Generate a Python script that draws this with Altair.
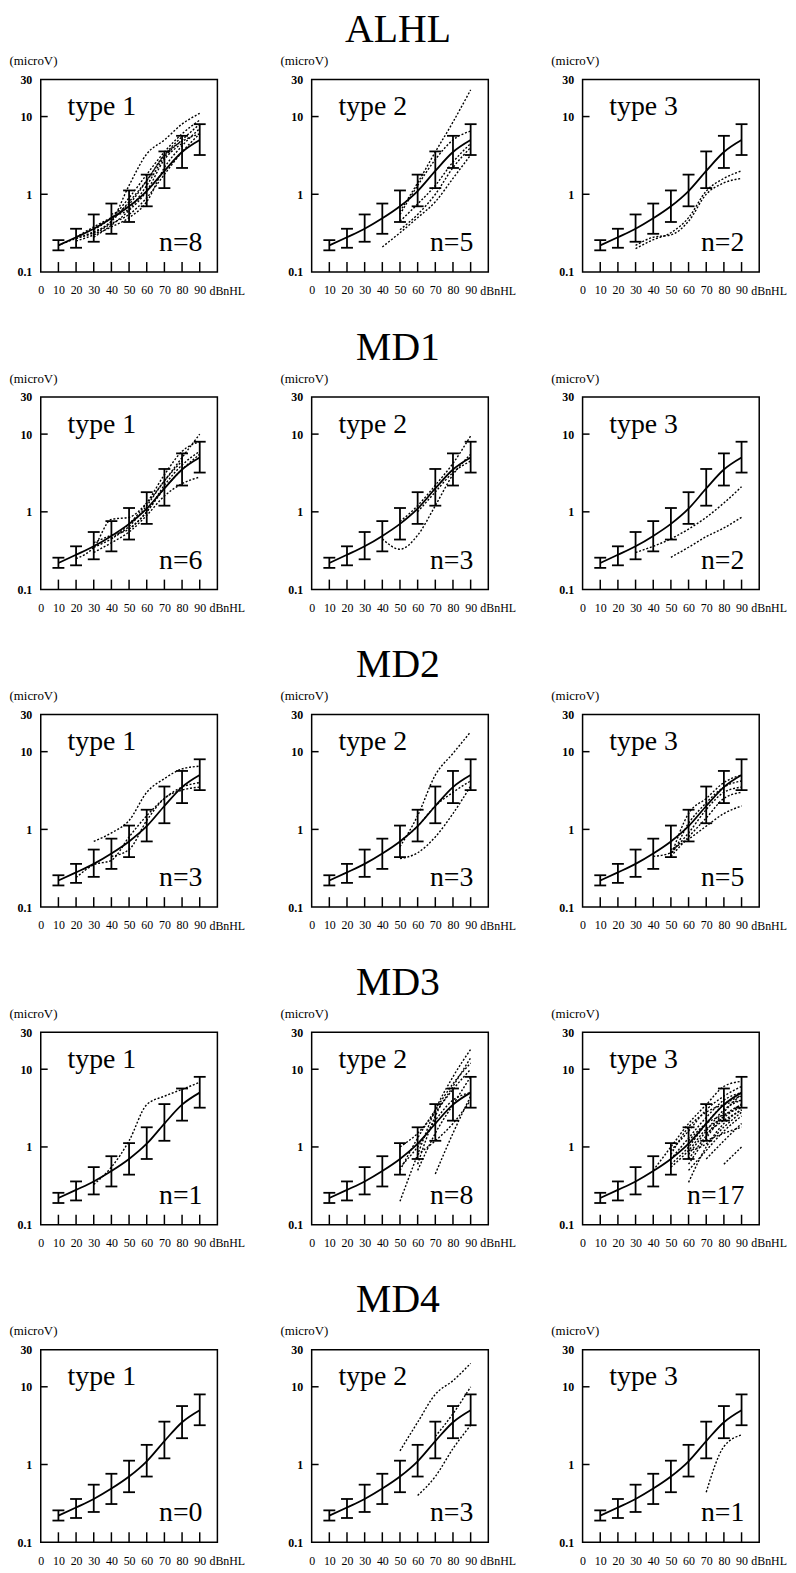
import altair as alt
import pandas as pd

SERIF = "Liberation Serif"

# ---- shared reference (normal mean +/- range) ----
X = [10, 20, 30, 40, 50, 60, 70, 80, 90]
MEAN = [0.22, 0.28, 0.36, 0.49, 0.70, 1.10, 2.00, 3.50, 5.00]
LOW = [0.19, 0.205, 0.245, 0.31, 0.44, 0.70, 1.20, 2.18, 3.20]
HIGH = [0.257, 0.36, 0.55, 0.76, 1.12, 1.79, 3.56, 5.65, 7.98]

X_LABELS = [0, 10, 20, 30, 40, 50, 60, 70, 80, 90]
Y_LABELS = [0.1, 1, 10, 30]
Y_TICKS = [1, 10]

GROUPS = ["ALHL", "MD1", "MD2", "MD3", "MD4"]
TYPES = ["type 1", "type 2", "type 3"]
N_COUNTS = [[8, 5, 2], [6, 3, 2], [3, 3, 5], [1, 8, 17], [0, 3, 1]]

N = None
# ---- individual cases (values at X, None = not recorded) ----
ALHL_1 = [
    [N, 0.27, 0.33, 0.45, 1.3, 3.3, 5.0, 8.0, 11.0],
    [N, N, 0.35, 0.50, 0.9, 1.8, 3.5, 6.0, 9.0],
    [N, 0.28, 0.38, 0.50, 0.65, 1.3, 3.0, 5.0, 8.0],
    [N, N, 0.30, 0.42, 0.55, 0.9, 1.8, 3.5, 6.0],
    [0.22, 0.27, 0.32, 0.45, 0.80, 1.5, 3.2, 5.5, N],
    [N, 0.25, 0.30, 0.38, 0.50, 0.8, 2.2, 4.2, 7.0],
    [N, N, 0.28, 0.40, 0.62, 1.1, 2.8, 4.5, N],
    [N, N, N, 0.55, 0.75, 1.5, 3.2, 4.8, 6.0],
]
ALHL_2 = [
    [N, N, N, N, 0.6, 1.4, 3.5, 8.5, 22.0],
    [N, N, N, N, 0.55, 1.3, 2.8, 5.0, 6.5],
    [N, N, N, 0.21, 0.32, 0.5, 0.8, 1.6, 3.2],
    [N, N, N, N, 0.35, 0.55, 1.0, 2.2, 4.0],
    [N, N, N, N, 0.45, 0.75, 1.3, 2.6, 4.5],
]
ALHL_3 = [
    [N, N, 0.20, 0.26, 0.32, 0.50, 1.1, 1.6, 2.0],
    [N, N, 0.22, 0.28, 0.30, 0.45, 1.0, 1.4, 1.6],
]
MD1_1 = [
    [N, 0.25, 0.35, 0.8, 0.85, 1.3, 2.5, 5.0, 10.0],
    [N, N, 0.40, 0.5, 0.6, 1.0, 2.0, 3.5, 5.5],
    [N, N, 0.30, 0.4, 0.55, 0.9, 1.6, 2.3, 2.8],
    [N, N, N, 0.45, 0.7, 1.3, 3.0, 6.0, 8.0],
    [N, N, 0.35, 0.45, 0.65, 1.2, 2.5, 4.5, N],
    [N, N, N, N, 0.6, 1.0, 2.2, 4.0, 6.0],
]
MD1_2 = [
    [N, N, N, 0.45, 0.33, 0.5, 1.2, 3.0, 5.5],
    [N, N, N, N, 0.75, 1.2, 2.2, 4.2, 9.5],
    [N, N, N, N, N, 1.0, 1.8, 3.2, 4.5],
]
MD1_3 = [
    [N, N, 0.30, 0.36, 0.45, 0.6, 0.85, 1.3, 2.1],
    [N, N, N, N, 0.26, 0.35, 0.48, 0.62, 0.85],
]
MD2_1 = [
    [N, N, 0.70, 0.9, 1.3, 3.0, 4.5, 6.0, 6.5],
    [N, 0.24, 0.35, 0.4, 0.8, 1.5, 2.5, 3.5, 4.0],
    [N, N, N, 0.45, 0.55, 1.3, 2.5, 3.2, 3.5],
]
MD2_2 = [
    [N, N, N, N, 0.6, 1.5, 5.0, 9.5, 18.0],
    [N, N, N, N, 0.42, 0.5, 0.8, 1.6, 3.6],
    [N, N, N, N, 0.7, 1.1, 2.0, 3.0, 4.2],
]
MD2_3 = [
    [N, N, N, N, 0.45, 1.6, 2.5, 4.0, 5.0],
    [N, N, N, N, 0.5, 0.9, 1.8, 3.0, 3.5],
    [N, N, N, N, 0.45, 0.8, 1.4, 2.5, 3.0],
    [N, N, N, N, 0.55, 0.75, 1.1, 1.6, 2.0],
    [N, N, N, 0.45, 0.5, 1.2, 2.2, 3.5, 4.2],
]
MD3_1 = [
    [N, N, 0.33, 0.55, 1.2, 3.5, 4.5, 5.5, 6.8],
]
MD3_2 = [
    [N, N, N, N, 0.2, 0.8, 3.0, 8.0, 18.0],
    [N, N, N, N, N, 0.6, 2.5, 6.0, 14.0],
    [N, N, N, N, 0.5, 1.3, 3.0, 6.5, 12.0],
    [N, N, N, N, N, 0.5, 1.5, 3.5, 8.0],
    [N, N, N, N, N, N, 0.45, 1.5, 4.5],
    [N, N, N, N, N, 0.8, 1.2, 2.0, 4.0],
    [N, N, N, N, 0.55, 1.0, 2.2, 4.0, 5.0],
    [N, N, N, N, 1.0, 1.5, 2.8, 5.5, 10.0],
]
MD3_3 = [
    [N, N, N, 0.5, 1.0, 2.0, 3.5, 6.0, 7.0],
    [N, N, N, N, 0.9, 1.6, 3.0, 4.5, 6.0],
    [N, N, N, N, 0.7, 1.3, 2.4, 4.0, 5.0],
    [N, N, N, N, 0.6, 1.0, 2.0, 3.5, 4.5],
    [N, N, N, N, N, 0.8, 1.6, 3.0, 4.0],
    [N, N, N, N, N, 0.6, 1.3, 2.5, 3.5],
    [N, N, N, N, N, 0.35, 1.0, 2.0, 3.0],
    [N, N, N, N, N, 0.5, 0.9, 1.6, 2.5],
    [N, N, N, N, N, N, 0.7, 1.2, 2.0],
    [N, N, N, N, N, N, N, 0.6, 1.0],
    [N, N, N, N, 0.8, 1.8, 2.8, 3.5, 4.0],
    [N, N, N, N, N, 1.2, 2.0, 2.6, 3.2],
    [N, N, N, N, N, 0.9, 1.1, 1.8, 2.8],
    [N, N, N, N, N, N, 1.5, 2.2, 3.0],
    [N, N, N, N, N, 0.7, 1.4, 2.8, 4.8],
    [N, N, N, N, 0.55, 0.9, 1.7, 2.4, 3.6],
    [N, N, N, N, N, N, 1.2, 1.5, 1.8],
]
MD4_1 = []
MD4_2 = [
    [N, N, N, N, 1.5, 3.5, 8.0, 12.0, 20.0],
    [N, N, N, N, N, N, 2.3, 4.5, 10.0],
    [N, N, N, N, N, 0.4, 0.7, 1.6, 3.2],
]
MD4_3 = [
    [N, N, N, N, N, N, 0.44, 1.7, 2.4],
]

PANELS = [
    [ALHL_1, ALHL_2, ALHL_3],
    [MD1_1, MD1_2, MD1_3],
    [MD2_1, MD2_2, MD2_3],
    [MD3_1, MD3_2, MD3_3],
    [MD4_1, MD4_2, MD4_3],
]

W, H = 178, 194

xs = alt.Scale(domain=[0, 100], nice=False, zero=False)
ys = alt.Scale(type="log", domain=[0.1, 30], nice=False)
xaxis = alt.Axis(values=X_LABELS, title=None, ticks=False, domain=False, grid=False,
                 labelFlush=False, labelOverlap=False, labelFont=SERIF, labelFontSize=12,
                 labelPadding=13, labelColor="black")
yaxis = alt.Axis(values=Y_LABELS, format="~g", title="(microV)", titleAngle=0,
                 titleAlign="left", titleBaseline="middle", titleX=-32, titleY=-19,
                 titleFont=SERIF, titleFontSize=13, titleFontWeight="normal", titleColor="black",
                 ticks=False, domain=False, grid=False, labelFlush=False, labelOverlap=False,
                 labelFont=SERIF, labelFontSize=12, labelFontWeight="bold", labelPadding=9,
                 labelColor="black")


def XE(f):
    return alt.X(f, type="quantitative", scale=xs, axis=xaxis)


def YE(f):
    return alt.Y(f, type="quantitative", scale=ys, axis=yaxis)


mean_df = pd.DataFrame({"x": X, "y": MEAN, "lo": LOW, "hi": HIGH})
caps_df = pd.DataFrame({"x": X + X, "y": LOW + HIGH})


def panel(lines, type_label, n):
    layers = []
    rows = []
    for i, ln in enumerate(lines):
        for xv, yv in zip(X, ln):
            if yv is not None:
                rows.append({"line": i, "x": xv, "y": yv})
    if rows:
        layers.append(
            alt.Chart(pd.DataFrame(rows)).mark_line(
                color="black", strokeWidth=1.4, strokeDash=[2, 1.8], interpolate="monotone"
            ).encode(x=XE("x"), y=YE("y"), detail="line:N")
        )
    layers.append(
        alt.Chart(mean_df).mark_line(color="black", strokeWidth=1.8, interpolate="monotone")
        .encode(x=XE("x"), y=YE("y"))
    )
    layers.append(
        alt.Chart(mean_df).mark_rule(color="black", strokeWidth=1.8)
        .encode(x=XE("x"), y=YE("lo"), y2="hi")
    )
    layers.append(
        alt.Chart(caps_df).mark_rule(color="black", strokeWidth=1.8, xOffset=-6, x2Offset=6)
        .encode(x=XE("x"), x2="x", y=YE("y"))
    )
    layers.append(
        alt.Chart(pd.DataFrame({"y": Y_TICKS})).mark_rule(color="black", strokeWidth=1.5)
        .encode(y=YE("y"), x=alt.value(0), x2=alt.value(7))
    )
    layers.append(
        alt.Chart(pd.DataFrame({"x": X})).mark_rule(color="black", strokeWidth=1.5)
        .encode(x=XE("x"), y=alt.value(H), y2=alt.value(H - 10))
    )
    layers.append(
        alt.Chart(pd.DataFrame({"t": [type_label]})).mark_text(
            align="left", baseline="alphabetic", font=SERIF, fontSize=28, color="black"
        ).encode(x=alt.value(27), y=alt.value(36), text="t:N")
    )
    layers.append(
        alt.Chart(pd.DataFrame({"t": ["n=%d" % n]})).mark_text(
            align="right", baseline="alphabetic", font=SERIF, fontSize=28, color="black"
        ).encode(x=alt.value(W - 15), y=alt.value(H - 21), text="t:N")
    )
    layers.append(
        alt.Chart(pd.DataFrame({"t": ["dBnHL"]})).mark_text(
            align="left", baseline="middle", font=SERIF, fontSize=12, color="black"
        ).encode(x=alt.value(W - 8), y=alt.value(H + 19), text="t:N")
    )
    return alt.layer(*layers).properties(width=W, height=H)


rows = []
for gi, g in enumerate(GROUPS):
    ps = [panel(PANELS[gi][ti], TYPES[ti], N_COUNTS[gi][ti]) for ti in range(3)]
    row = alt.hconcat(*ps, spacing=95, bounds="flush").properties(
        title=alt.TitleParams(g, fontSize=40, font=SERIF, fontWeight="normal",
                              anchor="middle", color="black", offset=4)
    )
    rows.append(row)

chart = alt.vconcat(*rows, spacing=30).properties(
    padding={"left": 0, "top": -4, "right": 0, "bottom": 0}
).configure_view(stroke="black", strokeWidth=1.5)

chart.save("out.html", embed_options={"renderer": "svg", "actions": False})
